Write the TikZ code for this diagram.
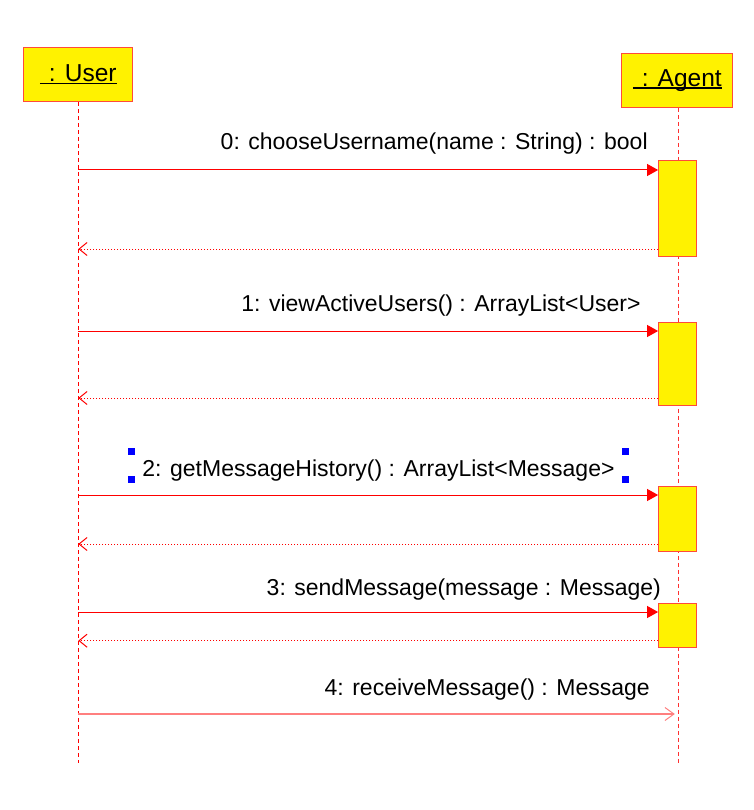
\documentclass[tikz,border=0pt]{standalone}
\usepackage{fontspec}
\setmainfont{Liberation Sans}
\usetikzlibrary{arrows.meta}
\definecolor{lred}{HTML}{FF0000}
\definecolor{bord}{HTML}{FF4A3A}
\definecolor{agline}{HTML}{FF3030}
\definecolor{pale}{HTML}{FF7F7F}
\definecolor{hand}{HTML}{0000FF}
\newcommand{\ulname}[1]{\raisebox{-2pt}{\setbox0\hbox{#1}\rlap{\rule[-2.6pt]{\wd0}{1.3pt}}\box0}}
\begin{document}
\begin{tikzpicture}[x=1pt,y=-1pt,
  objbox/.style={draw=bord, fill=yellow, line width=1pt, inner sep=0pt,
    minimum height=54pt, font=\fontsize{24.5}{28}\selectfont},
  actbox/.style={draw=bord, fill=yellow, line width=1pt, inner sep=0pt,
    minimum width=37.4pt},
  lifeU/.style={draw=lred, line width=1pt, dash pattern=on 4pt off 3pt},
  lifeA/.style={draw=agline, line width=1pt, dash pattern=on 4pt off 3pt},
  callmsg/.style={draw=lred, line width=1pt, -{Triangle[length=11pt,width=12pt]}},
  retmsg/.style={draw=lred, line width=1pt, dash pattern=on 1pt off 2pt,
    -{Straight Barb[length=8pt,width=13pt,line width=1pt]}},
  asyncmsg/.style={draw=pale, line width=2pt,
    -{Straight Barb[length=9pt,width=13pt,line width=1pt]}, shorten >=3.5pt},
  msglabel/.style={anchor=base, inner sep=0pt, font=\fontsize{23}{27}\selectfont},
  handle/.style={fill=hand, inner sep=0pt, minimum size=7pt}
]
\useasboundingbox (0,0) rectangle (753,810);

% objects
\node[objbox, minimum width=109pt] (user) at (78.3,74.7) {\ulname{\hspace{9pt}: User}};
\node[objbox, minimum width=111pt] (agent) at (677.3,80.3) {\ulname{\hspace{9pt}: Agent}};

% lifeline ends
\coordinate (uend) at (78.3,763);
\coordinate (aend) at (678.3,763);
\draw[lifeU] (user.south) -- (uend);
\draw[lifeA] (agent.south -| aend) -- (aend);

% activations
\node[actbox, minimum height=95.3pt] (a0) at (677.3,208.4) {};
\node[actbox, minimum height=83pt]   (a1) at (677.3,363.5) {};
\node[actbox, minimum height=65pt]   (a2) at (677.3,518.5) {};
\node[actbox, minimum height=44pt]   (a3) at (677.3,625.3) {};

% message points on user lifeline
\coordinate (m0) at (78.3,170);
\coordinate (r0) at (78.3,249);
\coordinate (m1) at (78.3,331);
\coordinate (r1) at (78.3,398);
\coordinate (m2) at (78.3,495);
\coordinate (r2) at (78.3,544);
\coordinate (m3) at (78.3,612);
\coordinate (r3) at (78.3,640.7);
\coordinate (m4) at (78.3,714);

% messages
\draw[callmsg] (m0) -- (m0 -| a0.west);
\draw[retmsg] (r0 -| a0.west) -- (r0);
\draw[callmsg] (m1) -- (m1 -| a1.west);
\draw[retmsg] (r1 -| a1.west) -- (r1);
\draw[callmsg] (m2) -- (m2 -| a2.west);
\draw[retmsg] (r2 -| a2.west) -- (r2);
\draw[callmsg] (m3) -- (m3 -| a3.west);
\draw[retmsg] (r3 -| a3.west) -- (r3);
\draw[asyncmsg] (m4) -- (m4 -| aend);

% labels
\node[msglabel] (l0) at (434.2,149.3) {0: chooseUsername(name : String) : bool};
\node[msglabel] (l1) at (441,311.7) {1: viewActiveUsers() : ArrayList<User>};
\node[msglabel] (l2) at (378.5,476) {2: getMessageHistory() : ArrayList<Message>};
\node[msglabel] (l3) at (463.8,595) {3: sendMessage(message : Message)};
\node[msglabel] (l4) at (487.2,695) {4: receiveMessage() : Message};

% selection handles around label 2
\node[handle] (h1) at (131,451.5) {};
\node[handle] (h2) at (131,479.5) {};
\node[handle] (h3) at (625.5,451.5) {};
\node[handle] (h4) at (625.5,479.5) {};
\end{tikzpicture}
\end{document}
